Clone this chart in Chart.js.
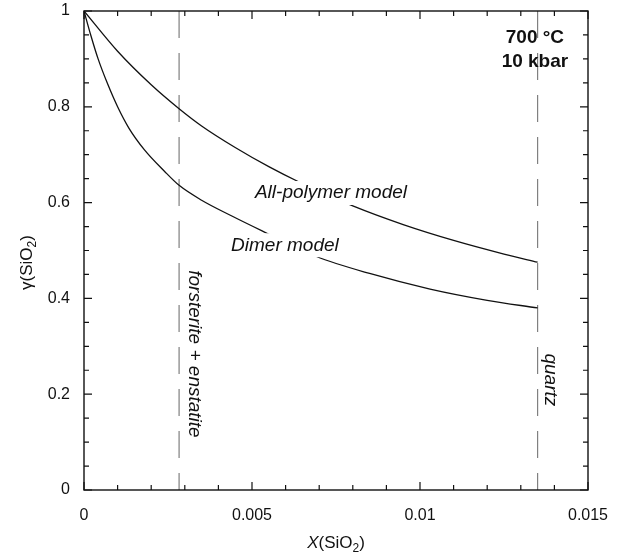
<!DOCTYPE html>
<html>
<head>
<meta charset="utf-8">
<script src="https://cdn.jsdelivr.net/npm/chart.js@4"></script>
<style>
  html, body { margin: 0; padding: 0; background: #fff; }
  #wrap { width: 622px; height: 555px; }
</style>
</head>
<body>
<div id="wrap"><canvas id="gammaChart" width="622" height="555"></canvas></div>
<script>
// curves
const xPolymer = [0, 0.001, 0.002, 0.00283, 0.0035, 0.0045, 0.0055, 0.0064, 0.008, 0.0095, 0.011, 0.0125, 0.0135];
const yPolymer = [1, 0.916, 0.846, 0.796, 0.76, 0.715, 0.675, 0.643, 0.593, 0.554, 0.521, 0.4925, 0.4755];
const xDimer = [0, 0.0002, 0.00042, 0.00069, 0.001, 0.00134, 0.0018, 0.0024, 0.00283, 0.0035, 0.0044, 0.0053, 0.0069, 0.0085, 0.0103, 0.012, 0.0135];
const yDimer = [1, 0.95, 0.9, 0.85, 0.8, 0.755, 0.71, 0.665, 0.636, 0.605, 0.572, 0.541, 0.488, 0.452, 0.4195, 0.396, 0.38];

// phase boundaries (vertical dashed lines)
const xForsterite = 0.00283;
const xQuartz = 0.0135;

const xTickLabels = ["0", "0.005", "0.01", "0.015"];
const yTickLabels = ["0", "0.2", "0.4", "0.6", "0.8", "1"];

const FONT = "'Liberation Sans', Arial, sans-serif";

function pts(xs, ys) {
  return xs.map((x, i) => ({ x: x, y: ys[i] }));
}

// labels placed in data space
const notes = [
  { text: "All-polymer model", x: 0.00735, y: 0.62, rot: 0, font: "italic 19px", clear: true },
  { text: "Dimer model", x: 0.00598, y: 0.511, rot: 0, font: "italic 19px", clear: true },
  { text: "forsterite + enstatite", x: 0.00327, y: 0.284, rot: Math.PI / 2, font: "italic 19px" },
  { text: "quartz", x: 0.01387, y: 0.23, rot: Math.PI / 2, font: "italic 19px" },
  { text: "700 °C", x: 0.01342, y: 0.944, rot: 0, font: "bold 19px" },
  { text: "10 kbar", x: 0.01342, y: 0.894, rot: 0, font: "bold 19px" },
];

const decorations = {
  id: "decorations",
  afterDatasetsDraw(chart) {
    const ctx = chart.ctx;
    const xs = chart.scales.x, ys = chart.scales.y;
    const a = chart.chartArea;
    ctx.save();
    ctx.textAlign = "center";
    ctx.textBaseline = "middle";
    ctx.fillStyle = "#111";

    notes.forEach(n => {
      const px = xs.getPixelForValue(n.x);
      const py = ys.getPixelForValue(n.y);
      ctx.font = n.font + " " + FONT;
      ctx.save();
      ctx.translate(px, py);
      ctx.rotate(n.rot);
      if (n.clear) {
        const w = ctx.measureText(n.text).width;
        ctx.fillStyle = "#fff";
        ctx.fillRect(-w / 2 - 3, -12, w + 6, 24);
        ctx.fillStyle = "#111";
      }
      ctx.fillText(n.text, 0, 0);
      ctx.restore();
    });

    // frame
    ctx.strokeStyle = "#111";
    ctx.lineWidth = 1.4;
    ctx.strokeRect(a.left, a.top, a.right - a.left, a.bottom - a.top);

    // inward ticks
    ctx.lineWidth = 1.2;
    ctx.beginPath();
    for (let i = 0; i <= 15; i++) {
      const px = xs.getPixelForValue(i / 1000);
      const len = i % 5 === 0 ? 8 : 5;
      ctx.moveTo(px, a.bottom); ctx.lineTo(px, a.bottom - len);
      ctx.moveTo(px, a.top); ctx.lineTo(px, a.top + len);
    }
    for (let i = 0; i <= 20; i++) {
      const py = ys.getPixelForValue(i / 20);
      const len = i % 4 === 0 ? 8 : 5;
      ctx.moveTo(a.left, py); ctx.lineTo(a.left + len, py);
      ctx.moveTo(a.right, py); ctx.lineTo(a.right - len, py);
    }
    ctx.stroke();

    // axis titles with subscripts
    ctx.textBaseline = "alphabetic";
    ctx.textAlign = "left";
    const drawTitle = (parts, cx, cy, rot) => {
      ctx.save();
      ctx.translate(cx, cy);
      ctx.rotate(rot);
      let total = 0;
      parts.forEach(p => { ctx.font = p.f + " " + FONT; total += ctx.measureText(p.t).width; });
      let x = -total / 2;
      parts.forEach(p => {
        ctx.font = p.f + " " + FONT;
        ctx.fillText(p.t, x, p.dy || 6);
        x += ctx.measureText(p.t).width;
      });
      ctx.restore();
    };
    drawTitle([
      { t: "X", f: "italic 17px" },
      { t: "(SiO", f: "17px" },
      { t: "2", f: "12px", dy: 10 },
      { t: ")", f: "17px" },
    ], (a.left + a.right) / 2, a.bottom + 52, 0);
    drawTitle([
      { t: "γ(SiO", f: "17px" },
      { t: "2", f: "12px", dy: 10 },
      { t: ")", f: "17px" },
    ], a.left - 58, (a.top + a.bottom) / 2 + 12, -Math.PI / 2);
    ctx.restore();
  },
};

const ctx = document.getElementById("gammaChart").getContext("2d");

const boundary = (label, x) => ({
  label: label,
  data: [{ x: x, y: 1 }, { x: x, y: 0 }],
  borderColor: "#808080",
  borderWidth: 1.2,
  borderDash: [27, 15],
  pointRadius: 0,
});

new Chart(ctx, {
  type: "line",
  data: {
    datasets: [
      {
        label: "All-polymer model",
        data: pts(xPolymer, yPolymer),
        borderColor: "#111",
        borderWidth: 1.3,
        pointRadius: 0,
        cubicInterpolationMode: "monotone",
        fill: false,
      },
      {
        label: "Dimer model",
        data: pts(xDimer, yDimer),
        borderColor: "#111",
        borderWidth: 1.3,
        pointRadius: 0,
        cubicInterpolationMode: "monotone",
        fill: false,
      },
      boundary("forsterite + enstatite", xForsterite),
      boundary("quartz", xQuartz),
    ],
  },
  options: {
    responsive: false,
    animation: false,
    layout: { padding: { top: 11, right: 34, left: 0, bottom: 0 } },
    plugins: {
      legend: { display: false },
      tooltip: { enabled: false },
    },
    scales: {
      x: {
        type: "linear",
        min: 0,
        max: 0.015,
        grid: { display: false, drawTicks: false },
        border: { display: false },
        ticks: {
          stepSize: 0.005,
          padding: 16,
          color: "#111",
          font: { family: FONT, size: 16 },
          maxRotation: 0,
          callback: (v, i) => xTickLabels[i],
        },
        afterFit: s => { s.height = 65; s.paddingLeft = 0; s.paddingRight = 0; },
      },
      y: {
        type: "linear",
        min: 0,
        max: 1,
        grid: { display: false, drawTicks: false },
        border: { display: false },
        ticks: {
          stepSize: 0.2,
          padding: 14,
          color: "#111",
          font: { family: FONT, size: 16 },
          callback: (v, i) => yTickLabels[i],
        },
        afterFit: s => { s.width = 84; s.paddingTop = 0; s.paddingBottom = 0; },
      },
    },
  },
  plugins: [decorations],
});
</script>
</body>
</html>
